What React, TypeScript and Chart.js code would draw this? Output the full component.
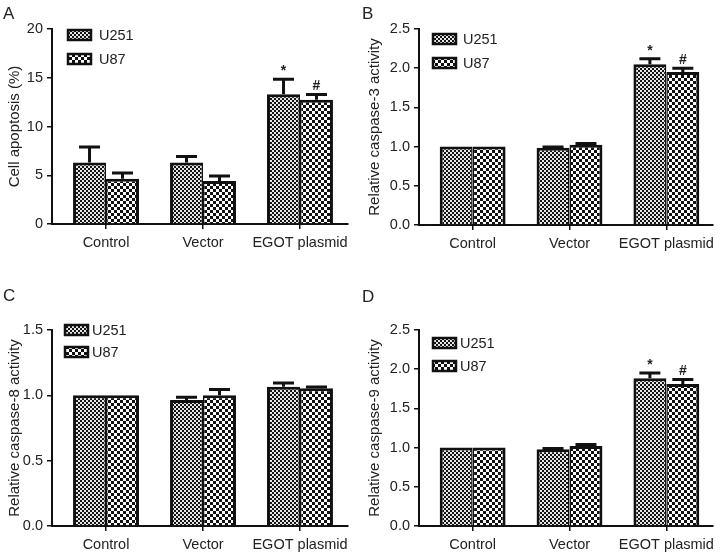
import React, { useEffect, useRef } from "react";
import { Chart, registerables } from "chart.js";

Chart.register(...registerables);

// ---------- data ----------
const categories = ["Control", "Vector", "EGOT plasmid"];
const seriesNames = ["U251", "U87"];

const apoptosisU251 = [6.3, 6.3, 13.3];
const apoptosisU251Err = [1.6, 0.62, 1.55];
const apoptosisU87 = [4.65, 4.4, 12.75];
const apoptosisU87Err = [0.58, 0.52, 0.52];

const casp3U251 = [1.0, 0.985, 2.05];
const casp3U251Err = [0, 0.01, 0.07];
const casp3U87 = [1.0, 1.025, 1.95];
const casp3U87Err = [0, 0.015, 0.05];

const casp8U251 = [1.0, 0.965, 1.065];
const casp8U251Err = [0, 0.02, 0.03];
const casp8U87 = [1.0, 1.0, 1.055];
const casp8U87Err = [0, 0.045, 0.008];

const casp9U251 = [1.0, 0.98, 1.885];
const casp9U251Err = [0, 0.008, 0.065];
const casp9U87 = [1.0, 1.02, 1.81];
const casp9U87Err = [0, 0.02, 0.06];

const sigU251 = ["", "", "*"];
const sigU87 = ["", "", "#"];
const sigNone = ["", "", ""];

const yTicksA = { max: 20, step: 5, decimals: 0 };
const yTicksB = { max: 2.5, step: 0.5, decimals: 1 };
const yTicksC = { max: 1.5, step: 0.5, decimals: 1 };
const yTicksD = { max: 2.5, step: 0.5, decimals: 1 };

// ---------- style ----------
const FONT = "'Liberation Sans', Arial, Helvetica, sans-serif";
const INK = "#222";
const LINE = "#111";

function makePattern(cell: number, dark: string, light: string) {
  const c = document.createElement("canvas");
  c.width = cell * 2;
  c.height = cell * 2;
  const g = c.getContext("2d")!;
  g.fillStyle = light;
  g.fillRect(0, 0, cell * 2, cell * 2);
  g.fillStyle = dark;
  g.fillRect(0, 0, cell, cell);
  g.fillRect(cell, cell, cell, cell);
  const ctx = document.createElement("canvas").getContext("2d")!;
  return ctx.createPattern(c, "repeat")!;
}

const errorBarPlugin = {
  id: "errorBars",
  afterDatasetsDraw(chart: any) {
    const { ctx } = chart;
    const yScale = chart.scales.y;
    chart.data.datasets.forEach((ds: any, di: number) => {
      const meta = chart.getDatasetMeta(di);
      meta.data.forEach((el: any, i: number) => {
        const v = ds.data[i].y;
        const e = ds.errors[i];
        const yTop = yScale.getPixelForValue(v + e);
        ctx.save();
        ctx.strokeStyle = LINE;
        ctx.lineWidth = 3;
        if (e > 0) {
          ctx.beginPath();
          ctx.moveTo(el.x, el.y);
          ctx.lineTo(el.x, yTop);
          ctx.moveTo(el.x - 10.5, yTop);
          ctx.lineTo(el.x + 10.5, yTop);
          ctx.stroke();
        }
        const mark = ds.marks[i];
        if (mark) {
          ctx.fillStyle = INK;
          ctx.font = `bold 14px ${FONT}`;
          ctx.textAlign = "center";
          ctx.textBaseline = "middle";
          ctx.fillText(mark, el.x, yTop - 8);
        }
        ctx.restore();
      });
    });
  },
};

const legendPlugin = {
  id: "panelLegend",
  afterDraw(chart: any, _args: any, opts: any) {
    const { ctx, chartArea } = chart;
    chart.data.datasets.forEach((ds: any, i: number) => {
      const cy = chartArea.top + opts.rows[i];
      const bx = chartArea.left + opts.boxX;
      ctx.save();
      ctx.fillStyle = ds.backgroundColor;
      ctx.fillRect(bx, cy - 5, 23, 10);
      ctx.strokeStyle = LINE;
      ctx.lineWidth = 2.5;
      ctx.strokeRect(bx, cy - 5, 23, 10);
      ctx.fillStyle = INK;
      ctx.font = `14.5px ${FONT}`;
      ctx.textAlign = "left";
      ctx.textBaseline = "middle";
      ctx.fillText(ds.label, chartArea.left + opts.textX, cy + 1);
      ctx.restore();
    });
  },
};

type PanelProps = {
  w: number;
  h: number;
  title: string;
  a: number[];
  aErr: number[];
  b: number[];
  bErr: number[];
  aSig: string[];
  bSig: string[];
  yt: { max: number; step: number; decimals: number };
  yWidth: number;
  pad: { left: number; right: number; top: number; bottom: number };
  xMin: number;
  xMax: number;
  legend: { boxX: number; textX: number; rows: number[] };
};

function Panel(p: PanelProps) {
  const ref = useRef<HTMLCanvasElement>(null);
  useEffect(() => {
    const fine = makePattern(2, "#151515", "#e6e6e6");
    const coarse = makePattern(3, "#111", "#fff");
    const chart = new Chart(ref.current!, {
      type: "bar",
      data: {
        datasets: [
          {
            label: seriesNames[0],
            data: p.a.map((v, i) => ({ x: i, y: v })),
            backgroundColor: fine,
            borderColor: LINE,
            borderWidth: { top: 3, left: 3, right: 1.5, bottom: 0 },
            borderSkipped: false,
            errors: p.aErr,
            marks: p.aSig,
          } as any,
          {
            label: seriesNames[1],
            data: p.b.map((v, i) => ({ x: i, y: v })),
            backgroundColor: coarse,
            borderColor: LINE,
            borderWidth: { top: 3, left: 1.5, right: 3, bottom: 0 },
            borderSkipped: false,
            errors: p.bErr,
            marks: p.bSig,
          } as any,
        ],
      },
      options: {
        responsive: false,
        animation: false,
        layout: { padding: p.pad },
        datasets: { bar: { categoryPercentage: 0.68, barPercentage: 1 } },
        plugins: {
          legend: { display: false },
          tooltip: { enabled: false },
          panelLegend: p.legend,
        } as any,
        scales: {
          x: {
            type: "linear",
            min: p.xMin,
            max: p.xMax,
            bounds: "data",
            offset: false,
            afterBuildTicks: (s: any) => {
              s.ticks = categories.map((_, i) => ({ value: i }));
            },
            afterFit: (s: any) => {
              s.height = 30;
            },
            ticks: {
              callback: (v: any) => categories[Math.round(Number(v))],
              font: { family: FONT, size: 14.5 },
              color: INK,
              padding: 5,
              maxRotation: 0,
              autoSkip: false,
            },
            grid: {
              display: true,
              drawOnChartArea: false,
              drawTicks: true,
              tickLength: 5,
              color: LINE,
              lineWidth: 1.5,
              offset: false,
            },
            border: { display: true, color: LINE, width: 2 },
          } as any,
          y: {
            min: 0,
            max: p.yt.max,
            afterFit: (s: any) => {
              s.width = p.yWidth;
            },
            ticks: {
              stepSize: p.yt.step,
              callback: (v: any) => Number(v).toFixed(p.yt.decimals),
              font: { family: FONT, size: 14.5 },
              color: INK,
              padding: 4,
            },
            grid: {
              drawOnChartArea: false,
              drawTicks: true,
              tickLength: 5,
              color: LINE,
              lineWidth: 1.5,
            },
            border: { display: true, color: LINE, width: 2 },
            title: {
              display: true,
              text: p.title,
              font: { family: FONT, size: 15 },
              color: INK,
              padding: { top: 6, bottom: 0 },
            },
          } as any,
        },
      },
      plugins: [errorBarPlugin, legendPlugin],
    });
    return () => chart.destroy();
  }, []);
  return (
    <canvas
      ref={ref}
      width={p.w}
      height={p.h}
      style={{ width: p.w, height: p.h, display: "block" }}
    />
  );
}

const letterStyle: React.CSSProperties = {
  position: "absolute",
  font: `17px ${FONT}`,
  lineHeight: "17px",
  color: INK,
};

export default function App() {
  return (
    <div
      style={{
        position: "absolute",
        left: 0,
        top: 0,
        width: 720,
        height: 559,
        background: "#fff",
      }}
    >
      <div style={{ position: "absolute", left: 0, top: 0 }}>
        <Panel
          w={360}
          h={280}
          title="Cell apoptosis (%)"
          a={apoptosisU251}
          aErr={apoptosisU251Err}
          b={apoptosisU87}
          bErr={apoptosisU87Err}
          aSig={sigU251}
          bSig={sigU87}
          yt={yTicksA}
          yWidth={52}
          pad={{ left: 0, right: 12, top: 29, bottom: 26 }}
          xMin={-0.557}
          xMax={2.495}
          legend={{ boxX: 16, textX: 47, rows: [6, 30] }}
        />
      </div>
      <div style={{ position: "absolute", left: 360, top: 0 }}>
        <Panel
          w={360}
          h={280}
          title="Relative caspase-3 activity"
          a={casp3U251}
          aErr={casp3U251Err}
          b={casp3U87}
          bErr={casp3U87Err}
          aSig={sigU251}
          bSig={sigU87}
          yt={yTicksB}
          yWidth={59}
          pad={{ left: 0, right: 7, top: 29, bottom: 25 }}
          xMin={-0.554}
          xMax={2.478}
          legend={{ boxX: 14, textX: 44, rows: [10, 34] }}
        />
      </div>
      <div style={{ position: "absolute", left: 0, top: 280 }}>
        <Panel
          w={360}
          h={279}
          title="Relative caspase-8 activity"
          a={casp8U251}
          aErr={casp8U251Err}
          b={casp8U87}
          bErr={casp8U87Err}
          aSig={sigNone}
          bSig={sigNone}
          yt={yTicksC}
          yWidth={52}
          pad={{ left: 0, right: 12, top: 50, bottom: 3 }}
          xMin={-0.557}
          xMax={2.495}
          legend={{ boxX: 13, textX: 40, rows: [0, 22] }}
        />
      </div>
      <div style={{ position: "absolute", left: 360, top: 280 }}>
        <Panel
          w={360}
          h={279}
          title="Relative caspase-9 activity"
          a={casp9U251}
          aErr={casp9U251Err}
          b={casp9U87}
          bErr={casp9U87Err}
          aSig={sigU251}
          bSig={sigU87}
          yt={yTicksD}
          yWidth={59}
          pad={{ left: 0, right: 7, top: 50, bottom: 3 }}
          xMin={-0.554}
          xMax={2.478}
          legend={{ boxX: 14, textX: 41, rows: [13, 36] }}
        />
      </div>
      <div style={{ ...letterStyle, left: 3, top: 5 }}>A</div>
      <div style={{ ...letterStyle, left: 362, top: 5 }}>B</div>
      <div style={{ ...letterStyle, left: 3, top: 287 }}>C</div>
      <div style={{ ...letterStyle, left: 362, top: 288 }}>D</div>
    </div>
  );
}
